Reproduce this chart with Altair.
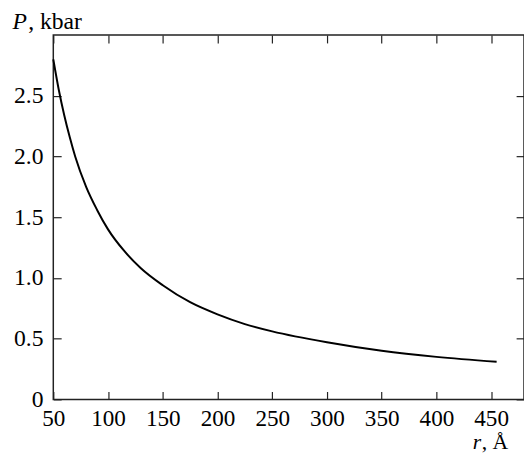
import altair as alt
import pandas as pd

r_vals = [50, 55, 60, 65, 70, 80, 90, 100, 115, 130, 150, 175, 200, 225, 250, 300, 350, 400, 455]
p_vals = [2.80, 2.55, 2.34, 2.16, 2.00, 1.75, 1.56, 1.40, 1.22, 1.08, 0.94, 0.80, 0.70, 0.62, 0.56, 0.47, 0.40, 0.35, 0.31]
x_ticks = [50, 100, 150, 200, 250, 300, 350, 400, 450]
y_ticks = [0, 0.5, 1.0, 1.5, 2.0, 2.5]

df = pd.DataFrame({"r": r_vals, "P": p_vals})

FONT = "Liberation Serif"
TICK = {"expr": "-8"}

xs = alt.Scale(domain=[50, 480], nice=False, zero=False)
ys = alt.Scale(domain=[0, 3], nice=False)

main = alt.Chart(df).mark_line(color="black", strokeWidth=2, interpolate="monotone").encode(
    x=alt.X("r:Q", scale=xs, axis=alt.Axis(
        orient="bottom", values=x_ticks, title=None, domain=False, grid=False,
        tickSize=TICK, tickColor="#222", tickWidth=1.2,
        labelPadding=16, labelFont=FONT, labelFontSize=23.5, labelColor="black",
        labelFlush=False, labelOverlap=False)),
    y=alt.Y("P:Q", scale=ys, axis=alt.Axis(
        orient="left", values=y_ticks, title=None, domain=False, grid=False,
        tickSize=TICK, tickColor="#222", tickWidth=1.2,
        labelPadding=18.5, labelFont=FONT, labelFontSize=24, labelColor="black",
        labelExpr="datum.value == 0 ? '0' : format(datum.value, '.1f')",
        labelFlush=False, labelOverlap=False)),
)

mirror = alt.Chart(df).mark_line(strokeOpacity=0).encode(
    x=alt.X("r:Q", scale=xs, axis=alt.Axis(
        orient="top", values=x_ticks, title=None, domain=False, grid=False, labels=False,
        tickSize=TICK, tickColor="#222", tickWidth=1.2)),
    y=alt.Y("P:Q", scale=ys, axis=alt.Axis(
        orient="right", values=y_ticks, title=None, domain=False, grid=False, labels=False,
        tickSize=TICK, tickColor="#222", tickWidth=1.2)),
)

one = pd.DataFrame({"a": [0]})
def label(text, x, y, italic=False, fs=24):
    return alt.Chart(one).mark_text(
        text=text, font=FONT, fontSize=fs, color="black", align="left", baseline="alphabetic",
        fontStyle="italic" if italic else "normal",
    ).encode(x=alt.value(x), y=alt.value(y))

t1 = label("P", -41.5, -6, italic=True)
t2 = label(", kbar", -25.5, -6)
t3 = label("r", 426, 420, italic=True, fs=22)
t4 = label(", Å", 435, 420, fs=22)

chart = alt.layer(main, mirror, t1, t2, t3, t4).resolve_axis(
    x="independent", y="independent"
).properties(
    width=478, height=370,
    padding={"left": 46, "top": 24, "right": 0, "bottom": 53},
    autosize=alt.AutoSizeParams(type="none"),
).configure_view(stroke="#222", strokeWidth=1.5)

chart.save("out.html", embed_options={"renderer": "svg", "actions": False})
